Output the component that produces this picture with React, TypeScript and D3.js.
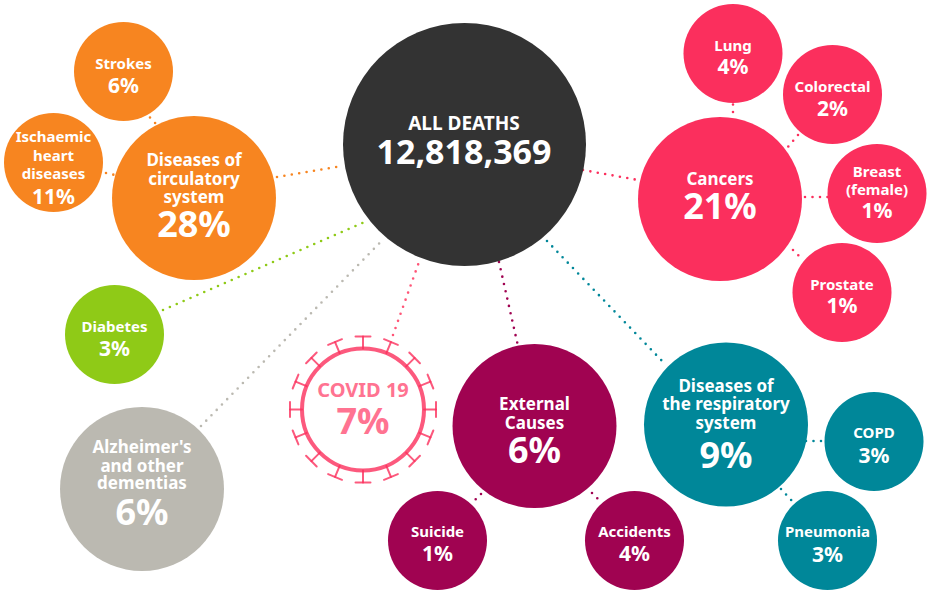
import React from 'react';
import * as d3 from 'd3';

// data
const totalLabel = ['ALL DEATHS'];
const totalDeaths = 12818369;

const categories = [
  'circulatory', 'strokes', 'ischaemic', 'cancers', 'lung', 'colorectal', 'breast', 'prostate',
  'diabetes', 'alzheimers', 'covid', 'external', 'suicide', 'accidents', 'respiratory', 'copd', 'pneumonia',
];
const shares = [28, 6, 11, 21, 4, 2, 1, 1, 3, 6, 7, 6, 1, 4, 9, 3, 3];
const labels = [
  ['Diseases of', 'circulatory', 'system'], ['Strokes'], ['Ischaemic', 'heart', 'diseases'],
  ['Cancers'], ['Lung'], ['Colorectal'], ['Breast', '(female)'], ['Prostate'],
  ['Diabetes'], ["Alzheimer's", 'and other', 'dementias'], ['COVID 19'],
  ['External', 'Causes'], ['Suicide'], ['Accidents'],
  ['Diseases of', 'the respiratory', 'system'], ['COPD'], ['Pneumonia'],
];
const parents = [
  'all', 'circulatory', 'circulatory', 'all', 'cancers', 'cancers', 'cancers', 'cancers',
  'all', 'all', 'all', 'all', 'external', 'external', 'all', 'respiratory', 'respiratory',
];

// layout, kept apart from the data: centre x, centre y, text baselines
const layout: Record<string, { c: [number, number]; lines: number[]; pct: number }> = {
  circulatory: { c: [194, 198], lines: [166, 184.5, 203], pct: 237 },
  strokes: { c: [123.5, 71.5], lines: [69], pct: 93 },
  ischaemic: { c: [53.5, 162.5], lines: [142, 161, 179], pct: 204 },
  cancers: { c: [720, 199], lines: [185], pct: 219 },
  lung: { c: [733, 53.5], lines: [51], pct: 74 },
  colorectal: { c: [832.5, 94.5], lines: [92], pct: 116 },
  breast: { c: [877, 193.5], lines: [177, 195], pct: 218 },
  prostate: { c: [842, 292.5], lines: [290], pct: 313 },
  diabetes: { c: [114.5, 334.5], lines: [332], pct: 356 },
  alzheimers: { c: [142, 489], lines: [453, 472, 489], pct: 525 },
  covid: { c: [363, 409.5], lines: [397], pct: 434 },
  external: { c: [534.5, 426], lines: [410, 429], pct: 463 },
  suicide: { c: [437.5, 540.5], lines: [537], pct: 561 },
  accidents: { c: [634.5, 540.5], lines: [537], pct: 561 },
  respiratory: { c: [726, 424.5], lines: [392, 410, 429], pct: 468 },
  copd: { c: [874, 441.5], lines: [438], pct: 463 },
  pneumonia: { c: [827.5, 540.5], lines: [537], pct: 562 },
};

// dotted connectors, start and end of each
const connectors: Record<string, [number, number][]> = {
  circulatory: [[277, 177], [342, 166]],
  strokes: [[150, 117.5], [156, 124]],
  ischaemic: [[106, 173], [115, 175]],
  cancers: [[583, 170], [638, 180]],
  lung: [[733, 104.5], [733, 113]],
  colorectal: [[798, 135], [787, 148]],
  breast: [[805, 197], [828, 197]],
  prostate: [[793, 250], [803, 260]],
  diabetes: [[163, 310], [367, 221]],
  alzheimers: [[201, 426], [383, 239.5]],
  covid: [[393, 335], [419, 262]],
  external: [[499, 262], [518, 346]],
  suicide: [[481, 494], [475, 500]],
  accidents: [[592, 493], [598, 499]],
  respiratory: [[547, 241], [664, 363]],
  copd: [[806, 441], [825, 441]],
  pneumonia: [[781, 489], [792, 501]],
};

const bigNodes = ['circulatory', 'cancers', 'alzheimers', 'external', 'respiratory'];
const groupKeys = ['circulatory', 'cancers', 'diabetes', 'alzheimers', 'covid', 'external', 'respiratory'];
const groupColors = ['#f78520', '#fb2f5d', '#8fca17', '#bbb9b1', '#ff5577', '#a00351', '#008799'];

const color = d3.scaleOrdinal<string, string>().domain(groupKeys).range(groupColors);
const radius = d3.scaleOrdinal<string, number>().domain(['big', 'small']).range([82, 49.5]);
const groupOf = (i: number) => (parents[i] === 'all' ? categories[i] : parents[i]);

const line = d3.line();
const fmt = d3.format(',');
const FONT = '"Noto Sans", sans-serif';
const spikes = d3.range(16).map(i => (i * Math.PI) / 8);

export default function App() {
  const covid = layout.covid.c;
  const covidIndex = categories.indexOf('covid');
  return (
    <svg
      width={928}
      height={591}
      style={{ position: 'absolute', left: 0, top: 0, fontFamily: FONT, fontWeight: 700 }}
      textAnchor="middle"
    >
      <rect width={928} height={591} fill="#fff" />
      <g fill="none" strokeWidth={2.6} strokeLinecap="round">
        {categories.map((k, i) => (
          <path
            key={k}
            d={line(connectors[k]) as string}
            stroke={color(groupOf(i))}
            strokeDasharray="0 7.5"
          />
        ))}
      </g>

      <circle cx={464.5} cy={144.5} r={121.5} fill="#333" />
      <text x={464} y={130} fontSize={19} fill="#fff">{totalLabel[0]}</text>
      <text x={464} y={164} fontSize={34} fill="#fff">{fmt(totalDeaths)}</text>

      {categories.map((k, i) => {
        if (k === 'covid') return null;
        const [cx, cy] = layout[k].c;
        const big = bigNodes.includes(k);
        return (
          <g key={k} fill="#fff">
            <circle cx={cx} cy={cy} r={radius(big ? 'big' : 'small')} fill={color(groupOf(i))} />
            {labels[i].map((t, j) => (
              <text key={j} x={cx} y={layout[k].lines[j]} fontSize={big ? 17 : 15}>{t}</text>
            ))}
            <text x={cx} y={layout[k].pct} fontSize={big ? 36 : 21}>{shares[i]}%</text>
          </g>
        );
      })}

      <g transform={`translate(${covid[0]},${covid[1]})`} stroke="#fb2f5d" strokeOpacity={0.8} fill="none">
        <circle r={61} strokeWidth={4} />
        {spikes.map(a => {
          const [x0, y0] = d3.pointRadial(a, 61);
          const [x1, y1] = d3.pointRadial(a, 73);
          const dx = Math.cos(a) * 7.5;
          const dy = Math.sin(a) * 7.5;
          return (
            <g key={a} strokeWidth={2} strokeLinecap="round">
              <path d={line([[x0, y0], [x1, y1]]) as string} />
              <path d={line([[x1 - dx, y1 - dy], [x1 + dx, y1 + dy]]) as string} />
            </g>
          );
        })}
      </g>
      <text x={363} y={397} fontSize={20} fill="#ff7391">{labels[covidIndex][0]}</text>
      <text x={363} y={434} fontSize={36} fill="#ff7391">{shares[covidIndex]}%</text>
    </svg>
  );
}
